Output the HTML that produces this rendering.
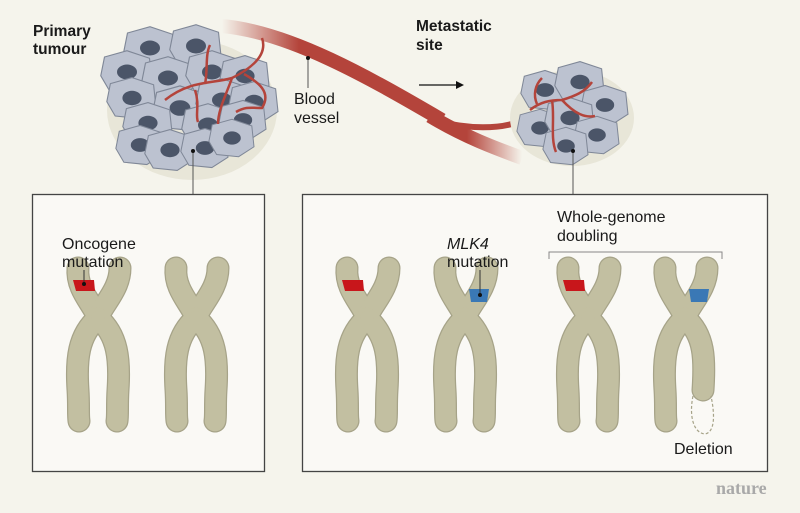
<!DOCTYPE html>
<html><head><meta charset="utf-8"><style>
html,body{margin:0;padding:0;background:#f5f4ec;}
svg{display:block}
text{font-family:"Liberation Sans",sans-serif;fill:#1a1a1a}
</style></head><body>
<svg width="800" height="513" viewBox="0 0 800 513" xmlns="http://www.w3.org/2000/svg">
<defs>
<linearGradient id="fadeL" x1="0" x2="1"><stop offset="0" stop-color="#b4443b" stop-opacity="0"/><stop offset="0.35" stop-color="#b4443b"/></linearGradient>
<linearGradient id="fadeR" x1="0" x2="1"><stop offset="0.4" stop-color="#b4443b"/><stop offset="1" stop-color="#b4443b" stop-opacity="0"/></linearGradient>
<g id="chr">
 <g fill="none" stroke="#a6a388" stroke-width="23" stroke-linecap="round">
  <path d="M-20,268 C-22,290 -4,305 0,318"/>
  <path d="M22,268 C22,290 4,305 0,318"/>
  <path d="M0,318 C-20,335 -22,360 -20,390 C-19,405 -20,415 -19,421"/>
  <path d="M0,318 C20,335 22,360 20,390 C19,405 20,415 19,421"/>
 </g>
 <g fill="none" stroke="#c2bfa1" stroke-width="20.5" stroke-linecap="round">
  <path d="M-20,268 C-22,290 -4,305 0,318"/>
  <path d="M22,268 C22,290 4,305 0,318"/>
  <path d="M0,318 C-20,335 -22,360 -20,390 C-19,405 -20,415 -19,421"/>
  <path d="M0,318 C20,335 22,360 20,390 C19,405 20,415 19,421"/>
 </g>
 <circle cx="0" cy="318" r="7" fill="#c2bfa1"/>
</g>
<g id="cell">
 <path d="M-18,-12 L0,-17 L18,-11 L20,8 L6,17 L-14,15 L-21,3 Z" fill="#bcc2d0" stroke="#7f8797" stroke-width="0.9"/>
 <ellipse cx="0" cy="0" rx="8" ry="6" fill="#4b5568"/>
</g>
</defs>

<!-- blood vessel -->
<path d="M222,26 C290,32 370,78 442,120" fill="none" stroke="url(#fadeL)" stroke-width="14"/>
<path d="M438,121 C470,130 500,128 515,123 C525,118 530,110 537,104" fill="none" stroke="#b4443b" stroke-width="6"/>
<path d="M430,116 C465,137 495,148 522,158" fill="none" stroke="url(#fadeR)" stroke-width="14"/>

<!-- primary tumour cells -->
<ellipse cx="192" cy="110" rx="85" ry="70" fill="#e8e6d8"/>
<g>
<use href="#cell" transform="translate(150,48) scale(1.25)"/>
<use href="#cell" transform="translate(196,46) scale(1.25)"/>
<use href="#cell" transform="translate(127,72) scale(1.25)"/>
<use href="#cell" transform="translate(168,78) scale(1.25)"/>
<use href="#cell" transform="translate(212,72) scale(1.25)"/>
<use href="#cell" transform="translate(245,76) scale(1.2)"/>
<use href="#cell" transform="translate(132,98) scale(1.2)"/>
<use href="#cell" transform="translate(180,108) scale(1.3)"/>
<use href="#cell" transform="translate(222,100) scale(1.25)"/>
<use href="#cell" transform="translate(254,102) scale(1.2)"/>
<use href="#cell" transform="translate(148,123) scale(1.2)"/>
<use href="#cell" transform="translate(208,125) scale(1.25)"/>
<use href="#cell" transform="translate(243,120) scale(1.15)"/>
<use href="#cell" transform="translate(140,145) scale(1.15)"/>
<use href="#cell" transform="translate(170,150) scale(1.2)"/>
<use href="#cell" transform="translate(205,148) scale(1.15)"/>
<use href="#cell" transform="translate(232,138) scale(1.1)"/>
</g>
<g fill="none" stroke="#b4443b" stroke-width="2.5">
<path d="M262,38 C268,55 252,68 232,78 C212,84 190,80 165,100"/>
<path d="M232,78 C226,95 218,110 218,124"/>
<path d="M244,74 C258,82 272,92 262,108 C252,108 246,106 236,112"/>
<path d="M205,84 C208,70 205,55 210,45"/>
<path d="M195,90 C200,105 195,115 198,122"/>
</g>

<!-- metastatic cluster -->
<ellipse cx="572" cy="118" rx="62" ry="48" fill="#e8e6d8"/>
<g>
<use href="#cell" transform="translate(545,90) scale(1.15)"/>
<use href="#cell" transform="translate(580,82) scale(1.2)"/>
<use href="#cell" transform="translate(605,105) scale(1.15)"/>
<use href="#cell" transform="translate(540,128) scale(1.1)"/>
<use href="#cell" transform="translate(570,118) scale(1.2)"/>
<use href="#cell" transform="translate(597,135) scale(1.1)"/>
<use href="#cell" transform="translate(566,146) scale(1.1)"/>
</g>
<g fill="none" stroke="#b4443b" stroke-width="2.5">
<path d="M530,110 C540,102 550,100 562,100 C575,96 585,92 592,82"/>
<path d="M537,104 C533,95 535,85 542,78"/>
<path d="M552,100 C555,118 550,138 556,152"/>
<path d="M562,100 C575,114 585,118 595,116"/>
</g>

<!-- labels top -->
<text x="33" y="36" font-size="15.5" font-weight="bold">Primary</text>
<text x="33" y="54" font-size="15.5" font-weight="bold">tumour</text>
<text x="416" y="31" font-size="15.5" font-weight="bold">Metastatic</text>
<text x="416" y="50" font-size="15.5" font-weight="bold">site</text>
<line x1="419" y1="85" x2="458" y2="85" stroke="#111" stroke-width="1.3"/>
<path d="M464,85 L456,81 L456,89 Z" fill="#111"/>
<text x="294" y="104" font-size="16">Blood</text>
<text x="294" y="123" font-size="16">vessel</text>
<line x1="308" y1="58" x2="308" y2="88" stroke="#555" stroke-width="1"/>
<circle cx="308" cy="58" r="2" fill="#111"/>
<line x1="193" y1="151" x2="193" y2="194" stroke="#555" stroke-width="1"/>
<circle cx="193" cy="151" r="2" fill="#111"/>
<line x1="573" y1="151" x2="573" y2="194" stroke="#555" stroke-width="1"/>
<circle cx="573" cy="151" r="2" fill="#111"/>

<!-- boxes -->
<rect x="32.5" y="194.5" width="232" height="277" fill="#faf9f5" stroke="#444" stroke-width="1.3"/>
<rect x="302.5" y="194.5" width="465" height="277" fill="#faf9f5" stroke="#444" stroke-width="1.3"/>

<!-- chromosomes -->
<use href="#chr" x="98"/>
<use href="#chr" x="196"/>
<use href="#chr" x="367"/>
<use href="#chr" x="465"/>
<use href="#chr" x="588"/>
<g transform="translate(685,0)">
 <g fill="none" stroke="#a6a388" stroke-width="23" stroke-linecap="round">
  <path d="M-20,268 C-22,290 -4,305 0,318"/><path d="M22,268 C22,290 4,305 0,318"/>
  <path d="M0,318 C-20,335 -22,360 -20,390 C-19,405 -20,415 -19,421"/>
  <path d="M0,318 C20,335 20,360 18,390"/>
 </g>
 <g fill="none" stroke="#c2bfa1" stroke-width="20.5" stroke-linecap="round">
  <path d="M-20,268 C-22,290 -4,305 0,318"/><path d="M22,268 C22,290 4,305 0,318"/>
  <path d="M0,318 C-20,335 -22,360 -20,390 C-19,405 -20,415 -19,421"/>
  <path d="M0,318 C20,335 20,360 18,390"/>
 </g>
 <circle cx="0" cy="318" r="7" fill="#c2bfa1"/>
 <path d="M8,396 C4,415 8,433 20,434 C30,432 30,415 26,396" fill="none" stroke="#a6a388" stroke-width="1.2" stroke-dasharray="3,2"/>
</g>

<!-- bands -->
<path d="M73,280 L94,280 L95,291 L76,291 Z" fill="#c8161b"/>
<path d="M342,280 L363,280 L364,291 L345,291 Z" fill="#c8161b"/>
<path d="M563,280 L584,280 L585,291 L566,291 Z" fill="#c8161b"/>
<path d="M469,289 L489,289 L487,302 L471,302 Z" fill="#3a78b5"/>
<path d="M689,289 L709,289 L707,302 L691,302 Z" fill="#3a78b5"/>

<!-- box labels -->
<text x="62" y="249" font-size="16">Oncogene</text>
<text x="62" y="267" font-size="16">mutation</text>
<line x1="84" y1="270" x2="84" y2="283" stroke="#333" stroke-width="1"/>
<circle cx="84" cy="284" r="2" fill="#111"/>
<text x="447" y="249" font-size="16" font-style="italic">MLK4</text>
<text x="447" y="267" font-size="16">mutation</text>
<line x1="480" y1="270" x2="480" y2="295" stroke="#333" stroke-width="1"/>
<circle cx="480" cy="295" r="2" fill="#111"/>
<text x="557" y="222" font-size="16">Whole-genome</text>
<text x="557" y="241" font-size="16">doubling</text>
<path d="M549,259 L549,252 L722,252 L722,259" fill="none" stroke="#888" stroke-width="1"/>
<text x="674" y="454" font-size="16">Deletion</text>
<text x="716" y="494" font-size="18" font-weight="bold" style="fill:#a9a9a9;font-family:'Liberation Serif',serif">nature</text>
</svg>
</body></html>
